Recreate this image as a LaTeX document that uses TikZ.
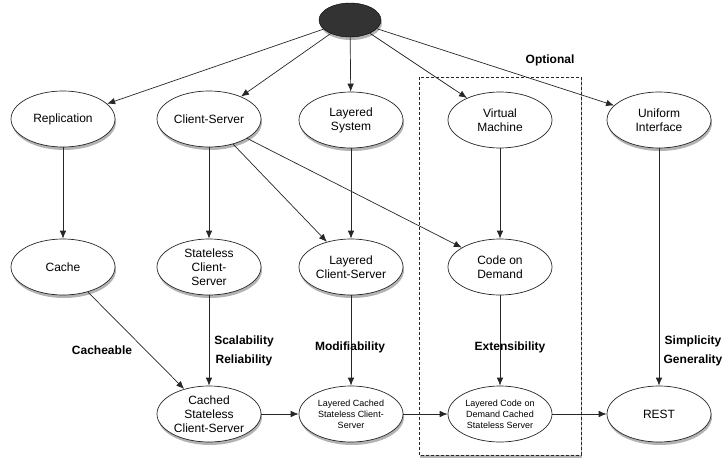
\documentclass[tikz,border=0pt]{standalone}
\usepackage{fontspec}
\setmainfont{Liberation Sans}
\usetikzlibrary{shapes.geometric,arrows.meta,shadows}

\begin{document}
\begin{tikzpicture}[x=1pt,y=-1pt,
    sty/.style={ellipse, draw=black!85, fill=white, line width=0.7pt, minimum width=104pt, minimum height=56pt, inner sep=0pt, align=center, font=\fontsize{12}{14}\selectfont},
    sh/.style={drop shadow={shadow xshift=1pt, shadow yshift=-3pt, opacity=.6}},
    small/.style={font=\fontsize{9}{11}\selectfont},
    prop/.style={align=center, font=\bfseries\fontsize{12}{19}\selectfont},
    link/.style={-{Latex[length=8pt,width=6.5pt]}, draw=black!85, line width=0.7pt}]
    \useasboundingbox (0,0) rectangle (728,471);

    % optional region
    \draw[dash pattern=on 3pt off 2pt, draw=black!85, line width=0.8pt, fill=white, sh] (419,77) rectangle (581,455);
    \node[prop] (opt) at (550,60) {Optional};

    % styles
    \node[ellipse, draw=black, fill=black!80, minimum width=62pt, minimum height=34pt, sh] (null) at (350,20) {};
    \node[sty, sh] (repl) at (63,119) {Replication};
    \node[sty, sh] (cs) at (209,119) {Client-Server};
    \node[sty, sh] (ls) at (351,120) {Layered\\System};
    \node[sty] (vm) at (500,120) {Virtual\\Machine};
    \node[sty, sh] (ui) at (659,120) {Uniform\\Interface};

    \node[sty, sh] (cache) at (63,267) {Cache};
    \node[sty, sh] (scs) at (209,267) {Stateless\\Client-\\Server};
    \node[sty, sh] (lcs) at (351,267) {Layered\\Client-Server};
    \node[sty] (cod) at (500,267) {Code on\\Demand};

    \node[sty, sh] (ccs) at (209,414) {Cached\\Stateless\\Client-Server};
    \node[sty, small, sh] (lccs) at (351,414) {Layered Cached\\Stateless Client-\\Server};
    \node[sty, small] (lcod) at (500,414) {Layered Code on\\Demand Cached\\Stateless Server};
    \node[sty, sh] (rest) at (659,414) {REST};

    % derivations
    \foreach \t in {repl,cs,ls,vm,ui}
        \draw[link] (null) -- (\t);
    \draw[link] (repl) -- (cache);
    \draw[link] (cs) -- (scs);
    \draw[link] (cs) -- (lcs);
    \draw[link] (cs) -- (cod);
    \draw[link] (ls) -- (lcs);
    \draw[link] (vm) -- (cod);
    \draw[link] (ui) -- (rest);
    \draw[link] (cache) -- (ccs);
    \draw[link] (scs) -- (ccs);
    \draw[link] (lcs) -- (lccs);
    \draw[link] (cod) -- (lcod);
    \draw[link] (ccs) -- (lccs);
    \draw[link] (lccs) -- (lcod);
    \draw[link] (lcod) -- (rest);

    % induced properties
    \node[prop] (cach) at (102,350) {Cacheable};
    \node[prop] (scal) at (244,351) {Scalability\\Reliability};
    \node[prop] (modi) at (350,347) {Modifiability};
    \node[prop] (exte) at (510,347) {Extensibility};
    \node[prop] (simp) at (693,351) {Simplicity\\Generality};
\end{tikzpicture}
\end{document}
